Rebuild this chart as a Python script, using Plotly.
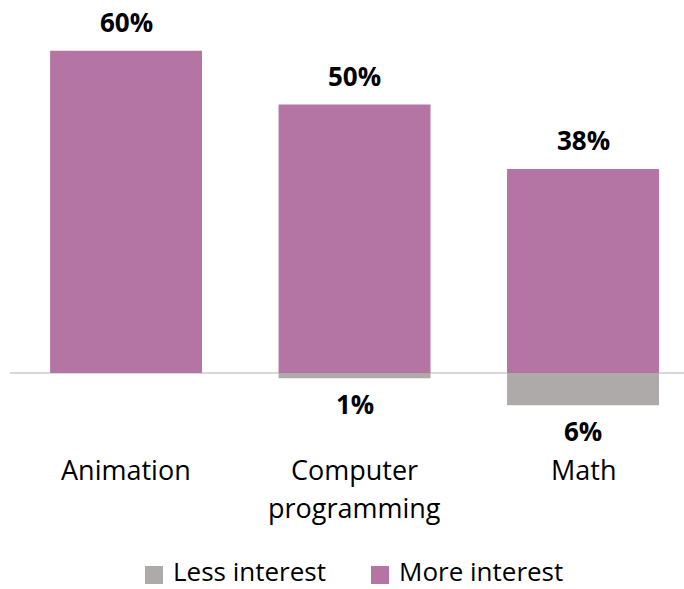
import plotly.graph_objects as go

categories = ["Animation", "Computer<br>programming", "Math"]
more_interest = [60, 50, 38]
less_interest = [0, -1, -6]
series_names = ["Less interest", "More interest"]
series_colors = ["#aeaaaa", "#b474a4"]

FONT = "Open Sans"
W_FIG, H_FIG = 684, 589
ML, MR, MT, MB = 10, 0, 0, 159
PW = W_FIG - ML - MR
PH = H_FIG - MT - MB

x = list(range(len(categories)))

fig = go.Figure()
fig.add_trace(go.Bar(x=x, y=less_interest, name=series_names[0],
                     marker=dict(color=series_colors[0], line=dict(width=0)),
                     width=0.665, showlegend=False))
fig.add_trace(go.Bar(x=x, y=more_interest, name=series_names[1],
                     marker=dict(color=series_colors[1], line=dict(width=0)),
                     width=0.665, showlegend=False))

ann = []
for i, v in enumerate(more_interest):
    ann.append(dict(x=i, y=v, xref="x", yref="y", text=f"<b>{v}%</b>",
                    showarrow=False, yanchor="middle", yshift=29,
                    font=dict(family=FONT, size=26, color="#000000")))
for i, v in enumerate(less_interest):
    if v != 0:
        ann.append(dict(x=i, y=v, xref="x", yref="y", text=f"<b>{abs(v)}%</b>",
                        showarrow=False, yanchor="middle", yshift=-26,
                        font=dict(family=FONT, size=26, color="#000000")))
for i, c in enumerate(categories):
    for j, line in enumerate(c.split("<br>")):
        ann.append(dict(x=i, y=0, xref="x", yref="y", text=line, showarrow=False,
                        yanchor="top", yshift=-76 - 38 * j,
                        font=dict(family=FONT, size=27, color="#000000")))

# legend (manual)
leg_sq_x = [145, 371]
leg_y = 575
shapes = []
for name, col, sx in zip(series_names, series_colors, leg_sq_x):
    x0 = (sx - ML) / PW
    x1 = (sx + 18 - ML) / PW
    y0 = (PH - (leg_y + 9)) / PH
    y1 = (PH - (leg_y - 9)) / PH
    shapes.append(dict(type="rect", xref="paper", yref="paper", x0=x0, x1=x1,
                       y0=y0, y1=y1, fillcolor=col, line=dict(width=0)))
    ann.append(dict(x=(sx + 26 - ML) / PW, y=(PH - (leg_y - 4)) / PH, xref="paper", yref="paper",
                    text=name, showarrow=False, xanchor="left", yanchor="middle",
                    font=dict(family=FONT, size=26, color="#000000")))

k = 5.37
ymax = 373 / k
ymin = -(PH - 373) / k

fig.update_layout(
    width=W_FIG, height=H_FIG,
    margin=dict(l=ML, r=MR, t=MT, b=MB),
    barmode="relative",
    plot_bgcolor="white", paper_bgcolor="white",
    xaxis=dict(range=[-0.508, 2.442], showticklabels=False, showgrid=False,
               zeroline=False, showline=False, ticks=""),
    yaxis=dict(range=[ymin, ymax], showticklabels=False, showgrid=False,
               zeroline=True, zerolinecolor="#d9d9d9", zerolinewidth=2, showline=False),
    annotations=ann, shapes=shapes,
    font=dict(family=FONT),
)

fig.write_html("out.html")
